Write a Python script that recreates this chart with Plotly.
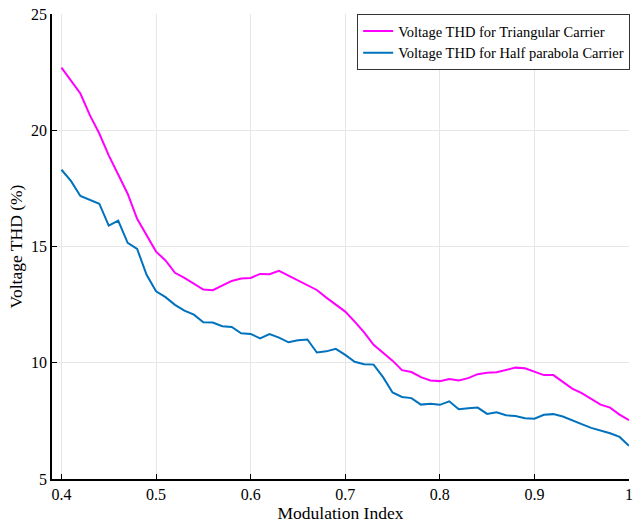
import plotly.graph_objects as go

mod_index = [round(0.40 + 0.01 * i, 2) for i in range(61)]

thd_triangular = [
    22.69, 22.13, 21.58, 20.65, 19.86, 18.92, 18.06, 17.27, 16.19, 15.47,
    14.78, 14.40, 13.87, 13.65, 13.39, 13.15, 13.12, 13.32, 13.52, 13.62,
    13.65, 13.82, 13.81, 13.95, 13.74, 13.55, 13.34, 13.13, 12.80, 12.49,
    12.20, 11.77, 11.31, 10.77, 10.45, 10.09, 9.68, 9.60, 9.38, 9.24,
    9.21, 9.30, 9.24, 9.34, 9.51, 9.57, 9.59, 9.69, 9.79, 9.76,
    9.61, 9.47, 9.47, 9.16, 8.89, 8.69, 8.44, 8.20, 8.07, 7.77,
    7.53,
]

thd_half_parabola = [
    18.30, 17.82, 17.17, 17.01, 16.84, 15.90, 16.11, 15.16, 14.90, 13.78,
    13.07, 12.82, 12.49, 12.24, 12.07, 11.74, 11.73, 11.57, 11.54, 11.27,
    11.24, 11.05, 11.23, 11.08, 10.88, 10.97, 11.00, 10.44, 10.49, 10.60,
    10.34, 10.04, 9.94, 9.92, 9.38, 8.72, 8.53, 8.48, 8.20, 8.24,
    8.19, 8.34, 8.00, 8.04, 8.07, 7.80, 7.87, 7.74, 7.71, 7.61,
    7.59, 7.76, 7.79, 7.69, 7.51, 7.36, 7.20, 7.10, 6.97, 6.81,
    6.43,
]

x_tick_vals = [0.4, 0.5, 0.6, 0.7, 0.8, 0.9, 1.0]
x_tick_text = ["0.4", "0.5", "0.6", "0.7", "0.8", "0.9", "1"]
y_tick_vals = [5, 10, 15, 20, 25]

FONT = "Liberation Serif, Times New Roman, serif"

fig = go.Figure()
fig.add_trace(go.Scatter(
    x=mod_index, y=thd_triangular, mode="lines",
    name="Voltage THD for Triangular Carrier",
    line=dict(color="#FF00FF", width=2),
))
fig.add_trace(go.Scatter(
    x=mod_index, y=thd_half_parabola, mode="lines",
    name="Voltage THD for Half parabola Carrier",
    line=dict(color="#0072BD", width=2),
))

fig.update_layout(
    width=637, height=523,
    margin=dict(l=52, r=4, t=14, b=44),
    paper_bgcolor="white", plot_bgcolor="white",
    font=dict(family=FONT, size=16, color="black"),
    showlegend=True,
    legend=dict(
        x=1.002, y=1.0, xanchor="right", yanchor="top",
        bordercolor="#333333", borderwidth=1, bgcolor="white",
        font=dict(family=FONT, size=14.5),
        tracegroupgap=0, itemwidth=30,
    ),
    xaxis=dict(
        range=[0.39, 1.0],
        tickvals=x_tick_vals, ticktext=x_tick_text,
        ticks="inside", ticklen=5, tickcolor="black",
        showline=True, linecolor="black", linewidth=1.5,
        showgrid=True, gridcolor="#e6e6e6", gridwidth=1,
        zeroline=False,
        title=dict(text="Modulation Index", font=dict(size=17.5), standoff=2),
        tickfont=dict(size=16),
    ),
    yaxis=dict(
        range=[5, 25],
        tickvals=y_tick_vals,
        ticks="inside", ticklen=5, tickcolor="black",
        showline=True, linecolor="black", linewidth=1.5,
        showgrid=True, gridcolor="#e6e6e6", gridwidth=1,
        zeroline=False,
        title=dict(text="Voltage THD (%)", font=dict(size=17.5), standoff=4),
        tickfont=dict(size=16),
    ),
)

fig.write_html("out.html")
